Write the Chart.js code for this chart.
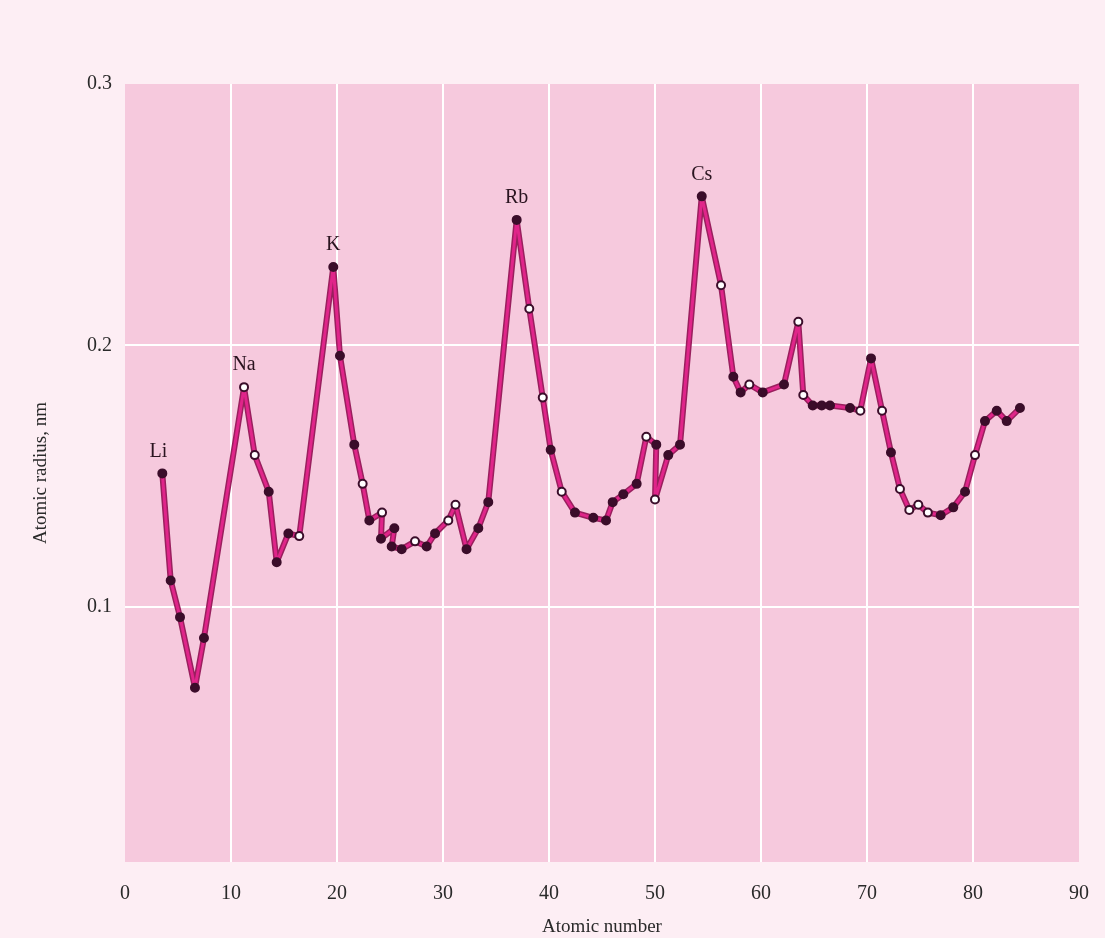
<!DOCTYPE html>
<html lang="en">
<head>
<meta charset="utf-8">
<title>Atomic radius</title>
<script src="https://cdn.jsdelivr.net/npm/chart.js@4/dist/chart.umd.min.js"></script>
<style>
  html, body { margin: 0; padding: 0; background: #fdeef4; }
  #wrap { position: relative; width: 1105px; height: 938px; }
</style>
</head>
<body>
<div id="wrap"><canvas id="myChart"></canvas></div>
<script>
// values (x = atomic number, y = radius in nm)
const atomicNumber = [3.52, 4.31, 5.19, 6.60, 7.45, 11.23, 12.24, 13.56, 14.31, 15.41, 16.44,
  19.65, 20.28, 21.63, 22.42, 23.05, 24.25, 24.15, 25.41, 25.16, 26.10, 27.36, 28.46, 29.25,
  30.50, 31.18, 32.22, 33.33, 34.27, 36.95, 38.14, 39.41, 40.16, 41.20, 42.45, 44.18, 45.38,
  46.01, 47.01, 48.27, 49.18, 50.12, 50.00, 51.25, 52.36, 54.41, 56.23, 57.39, 58.08, 58.90,
  60.16, 62.17, 63.52, 63.99, 64.88, 65.73, 66.51, 68.40, 69.37, 70.38, 71.42, 72.26, 73.11,
  73.99, 74.84, 75.74, 76.95, 78.14, 79.25, 80.19, 81.13, 82.24, 83.18, 84.43];
const radius = [0.151, 0.110, 0.096, 0.069, 0.088, 0.184, 0.158, 0.144, 0.117, 0.128, 0.127,
  0.230, 0.196, 0.162, 0.147, 0.133, 0.136, 0.126, 0.130, 0.123, 0.122, 0.125, 0.123, 0.128,
  0.133, 0.139, 0.122, 0.130, 0.140, 0.248, 0.214, 0.180, 0.160, 0.144, 0.136, 0.134, 0.133,
  0.140, 0.143, 0.147, 0.165, 0.162, 0.141, 0.158, 0.162, 0.257, 0.223, 0.188, 0.182, 0.185,
  0.182, 0.185, 0.209, 0.181, 0.177, 0.177, 0.177, 0.176, 0.175, 0.195, 0.175, 0.159, 0.145,
  0.137, 0.139, 0.136, 0.135, 0.138, 0.144, 0.158, 0.171, 0.175, 0.171, 0.176];
// 1 = open marker, 0 = filled marker
const hollow = [0, 0, 0, 0, 0, 1, 1, 0, 0, 0, 1,
  0, 0, 0, 1, 0, 1, 0, 0, 0, 0, 1, 0, 0,
  1, 1, 0, 0, 0, 0, 1, 1, 0, 1, 0, 0, 0,
  0, 0, 0, 1, 0, 1, 0, 0, 0, 1, 0, 0, 1,
  0, 0, 1, 1, 0, 0, 0, 0, 1, 0, 1, 0, 1,
  1, 1, 1, 0, 0, 0, 1, 0, 0, 0, 0];
const elementNames = ['Li', 'Na', 'K', 'Rb', 'Cs'];
const elementIndex = [0, 5, 11, 29, 45];
const xTicks = [0, 10, 20, 30, 40, 50, 60, 70, 80, 90];
const yTicks = [0.1, 0.2, 0.3];

const points = atomicNumber.map((z, i) => ({x: z, y: radius[i]}));
const dark = '#3b0d2a';

const backgrounds = {
  id: 'backgrounds',
  beforeDraw(chart) {
    const {ctx, chartArea: a} = chart;
    ctx.save();
    ctx.fillStyle = '#fdeef4';
    ctx.fillRect(0, 0, chart.width, chart.height);
    ctx.fillStyle = '#f6c9dd';
    ctx.fillRect(a.left, a.top, a.right - a.left, a.bottom - a.top);
    ctx.restore();
  }
};

const elementLabels = {
  id: 'elementLabels',
  afterDatasetsDraw(chart) {
    const {ctx, scales} = chart;
    ctx.save();
    ctx.font = '20px "Liberation Serif", "DejaVu Serif", serif';
    ctx.fillStyle = '#2a1420';
    ctx.textAlign = 'center';
    ctx.textBaseline = 'middle';
    elementIndex.forEach((idx, k) => {
      const px = scales.x.getPixelForValue(atomicNumber[idx]);
      const py = scales.y.getPixelForValue(radius[idx]);
      ctx.fillText(elementNames[k], px + (k === 0 ? -4 : 0), py - 22);
    });
    ctx.restore();
  }
};

const ctx = document.getElementById('myChart').getContext('2d');
const myChart = new Chart(ctx, {
  type: 'line',
  data: {
    datasets: [{
      data: points,
      borderColor: '#e0258a',
      borderWidth: 3,
      borderJoinStyle: 'round',
      borderCapStyle: 'round',
      pointStyle: 'circle',
      pointRadius: 4,
      pointBorderWidth: 2,
      pointBorderColor: dark,
      pointBackgroundColor: hollow.map(h => h ? '#ffffff' : dark),
      tension: 0,
      order: 0
    }, {
      data: points,
      borderColor: '#9a1f5e',
      borderWidth: 6,
      borderJoinStyle: 'round',
      borderCapStyle: 'round',
      pointRadius: 0,
      tension: 0,
      order: 1
    }]
  },
  options: {
    responsive: true,
    maintainAspectRatio: false,
    animation: false,
    layout: {padding: {top: 84, right: 26, bottom: 0, left: 0}},
    plugins: {legend: {display: false}, tooltip: {enabled: false}},
    scales: {
      x: {
        type: 'linear',
        min: 0,
        max: 90,
        afterBuildTicks: s => { s.ticks = xTicks.map(v => ({value: v})); },
        afterFit: s => { s.height = 76; s.paddingLeft = 0; s.paddingRight = 0; },
        border: {display: false},
        grid: {
          drawTicks: false,
          lineWidth: 2,
          color: c => (c.tick.value === 0 || c.tick.value === 90) ? 'rgba(0,0,0,0)' : '#ffffff'
        },
        ticks: {
          padding: 20,
          color: '#2a2a2a',
          font: {family: '"Liberation Serif", "DejaVu Serif", serif', size: 20},
          maxRotation: 0
        },
        title: {
          display: true,
          text: 'Atomic number',
          color: '#2a2a2a',
          padding: {top: 0, bottom: 0},
          font: {family: '"Liberation Serif", "DejaVu Serif", serif', size: 19}
        }
      },
      y: {
        min: 0.0023,
        max: 0.3,
        afterBuildTicks: s => { s.ticks = yTicks.map(v => ({value: v})); },
        afterFit: s => { s.width = 125; s.paddingTop = 0; s.paddingBottom = 0; },
        border: {display: false},
        grid: {
          drawTicks: false,
          lineWidth: 2,
          color: c => c.tick.value === 0.3 ? 'rgba(0,0,0,0)' : '#ffffff'
        },
        ticks: {
          padding: 13,
          color: '#2a2a2a',
          font: {family: '"Liberation Serif", "DejaVu Serif", serif', size: 20},
          callback: v => v.toFixed(1)
        },
        title: {
          display: true,
          text: 'Atomic radius, nm',
          color: '#2a2a2a',
          padding: {top: 30, bottom: 0},
          font: {family: '"Liberation Serif", "DejaVu Serif", serif', size: 19}
        }
      }
    }
  },
  plugins: [backgrounds, elementLabels]
});
</script>
</body>
</html>
